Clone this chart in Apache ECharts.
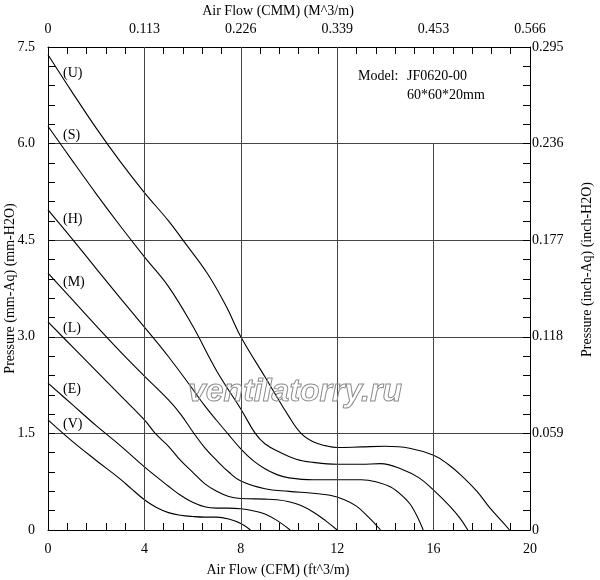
<!DOCTYPE html>
<html>
<head>
<meta charset="utf-8">
<script src="https://cdn.jsdelivr.net/npm/echarts@6/dist/echarts.min.js"></script>
<style>
    html, body { margin: 0; padding: 0; background: #fff; }
    #main { width: 600px; height: 580px; }
</style>
</head>
<body>
<div id="main"></div>
<script>
    // 刻度标签
    var cfmTicks = ['0', '4', '8', '12', '16', '20'];
    var cmmTicks = ['0', '0.113', '0.226', '0.339', '0.453', '0.566'];
    var mmTicks = ['0', '1.5', '3.0', '4.5', '6.0', '7.5'];
    var inchTicks = ['0', '0.059', '0.118', '0.177', '0.236', '0.295'];

    // 曲线名称
    var curveNames = ['(U)', '(S)', '(H)', '(M)', '(L)', '(E)', '(V)'];

    // 各档位 P-Q 曲线 [CFM, mm-H2O]
    var curveU = [[0, 7.38], [1, 6.8], [2, 6.24], [3, 5.72], [4, 5.24], [5, 4.8], [5.6, 4.5], [6.6, 3.99], [7.4, 3.47], [8, 3.0], [9, 2.38], [10, 1.76], [10.5, 1.5], [11, 1.37], [11.5, 1.31], [12, 1.28], [13, 1.29], [14, 1.3], [15, 1.27], [16, 1.16], [16.6, 1.02], [17.2, 0.83], [17.8, 0.6], [18.3, 0.36], [18.8, 0.15], [19.15, 0]];
    var curveS = [[0, 6.27], [1, 5.74], [2, 5.22], [3, 4.72], [4, 4.24], [5, 3.78], [6, 3.17], [7, 2.47], [8, 1.88], [8.6, 1.5], [9, 1.34], [9.6, 1.21], [10.3, 1.1], [11, 1.05], [12, 1.02], [13, 1.02], [13.8, 1.03], [14.7, 0.94], [15.4, 0.81], [16, 0.62], [16.7, 0.36], [17.1, 0.18], [17.42, 0]];
    var curveH = [[0, 4.97], [1, 4.52], [2, 4.06], [3, 3.6], [4, 3.15], [5, 2.69], [6, 2.19], [6.5, 1.93], [7, 1.7], [7.45, 1.5], [8, 1.26], [8.5, 1.08], [9, 0.95], [9.5, 0.86], [10, 0.81], [11, 0.78], [12, 0.78], [13, 0.78], [13.6, 0.75], [14.2, 0.67], [14.7, 0.53], [15.1, 0.36], [15.57, 0]];
    var curveM = [[0, 3.99], [1, 3.58], [2, 3.17], [3, 2.77], [4, 2.39], [5, 2.02], [5.5, 1.8], [6, 1.53], [6.5, 1.28], [7, 1.08], [7.5, 0.9], [8, 0.76], [9, 0.64], [10, 0.6], [11, 0.57], [11.7, 0.54], [12.3, 0.47], [12.8, 0.37], [13.3, 0.2], [13.8, 0]];
    var curveL = [[0, 3.23], [1, 2.85], [2, 2.47], [3, 2.09], [4, 1.71], [4.45, 1.5], [5, 1.3], [5.5, 1.08], [6, 0.9], [6.5, 0.72], [7, 0.6], [7.5, 0.52], [8, 0.49], [9, 0.48], [9.5, 0.47], [10, 0.44], [10.5, 0.38], [11, 0.28], [11.5, 0.15], [12, 0]];
    var curveE = [[0, 2.28], [1, 1.95], [2, 1.62], [3, 1.31], [4, 0.98], [5, 0.68], [5.5, 0.54], [6, 0.43], [6.5, 0.36], [7, 0.34], [7.5, 0.34], [8, 0.33], [8.5, 0.3], [9, 0.25], [9.5, 0.15], [10.05, 0]];
    var curveV = [[0, 1.71], [1, 1.38], [2, 1.08], [3, 0.79], [3.4, 0.66], [4, 0.47], [4.5, 0.35], [5, 0.27], [5.5, 0.23], [6, 0.21], [6.5, 0.2], [7, 0.2], [7.5, 0.17], [8, 0.1], [8.4, 0]];

    var curves = [curveU, curveS, curveH, curveM, curveL, curveE, curveV];
    // 曲线标签的纵向位置
    var labelY = [73, 135, 219, 282, 328, 389, 424];

    var font = '"Liberation Serif", "Times New Roman", serif';
    var textStyle = { fontFamily: font, fontSize: 14, color: '#000' };

    function tickFormatter(labels, step) {
        return function (value) {
            return labels[Math.round(value / step)];
        };
    }

    function xAxisOf(position, labels, name, margin, gap) {
        return {
            type: 'value', position: position, min: 0, max: 20, interval: 4,
            name: name, nameLocation: 'middle', nameGap: gap, nameMoveOverlap: false,
            nameTextStyle: { fontFamily: font, fontSize: 14, color: '#000', padding: [0, 22, 0, 0] },
            axisLine: { show: true, onZero: false, lineStyle: { color: '#000', width: 1 } },
            axisTick: { show: true, inside: true, length: 7, lineStyle: { color: '#000' } },
            minorTick: { show: true, splitNumber: 5, length: 7, lineStyle: { color: '#000' } },
            axisLabel: Object.assign({ margin: margin, formatter: tickFormatter(labels, 4) }, textStyle),
            splitLine: { show: false }
        };
    }

    function yAxisOf(position, labels, name, margin, gap, pad) {
        return {
            type: 'value', position: position, min: 0, max: 7.5, interval: 1.5,
            name: name, nameLocation: 'middle', nameGap: gap, nameMoveOverlap: false,
            nameTextStyle: { fontFamily: font, fontSize: 14, color: '#000', padding: pad },
            axisLine: { show: true, onZero: false, lineStyle: { color: '#000', width: 1 } },
            axisTick: { show: true, inside: true, length: 7, lineStyle: { color: '#000' } },
            minorTick: { show: true, splitNumber: 5, length: 7, lineStyle: { color: '#000' } },
            axisLabel: Object.assign({ margin: margin, formatter: tickFormatter(labels, 1.5) }, textStyle),
            splitLine: { show: position === 'left', lineStyle: { color: '#444', width: 1 } }
        };
    }

    var series = [];
    for (var i = 0; i < curves.length; i++) {
        series.push({
            name: curveNames[i],
            type: 'line',
            data: curves[i],
            showSymbol: false,
            smooth: 0.4,
            lineStyle: { color: '#000', width: 1.1 },
            silent: true
        });
    }
    // 竖直网格线 (16 只画到 6.0)
    series[0].markLine = {
        silent: true,
        symbol: ['none', 'none'],
        label: { show: false },
        lineStyle: { color: '#444', width: 1, type: 'solid' },
        data: [
            { xAxis: 4 }, { xAxis: 8 }, { xAxis: 12 },
            [{ coord: [16, 0] }, { coord: [16, 6] }]
        ]
    };

    var graphics = [];
    for (var j = 0; j < curveNames.length; j++) {
        graphics.push({
            type: 'text', x: 63, y: labelY[j],
            style: { text: curveNames[j], font: '14px ' + font, fill: '#000', verticalAlign: 'middle' }
        });
    }
    graphics.push(
        { type: 'text', x: 358, y: 76, style: { text: 'Model:', font: '14px ' + font, fill: '#000', verticalAlign: 'middle' } },
        { type: 'text', x: 407, y: 76, style: { text: 'JF0620-00', font: '14px ' + font, fill: '#000', verticalAlign: 'middle' } },
        { type: 'text', x: 407, y: 95, style: { text: '60*60*20mm', font: '14px ' + font, fill: '#000', verticalAlign: 'middle' } },
        // 水印
        { type: 'text', x: 188, y: 392, z: 100,
          style: { text: 'ventilatorry.ru', font: 'italic bold 32px "Liberation Sans", Arial, sans-serif',
                   fill: 'rgba(255,255,255,0)', stroke: '#8c8c8c', lineWidth: 1, verticalAlign: 'middle' } }
    );

    var myChart = echarts.init(document.getElementById('main'));
    var option = {
        animation: false,
        backgroundColor: '#fff',
        grid: { left: 48, right: 70, top: 47, bottom: 50, containLabel: false, outerBoundsMode: 'none' },
        xAxis: [
            xAxisOf('bottom', cfmTicks, 'Air Flow (CFM) (ft^3/m)', 12, 33),
            xAxisOf('top', cmmTicks, 'Air Flow (CMM) (M^3/m)', 11, 29)
        ],
        yAxis: [
            yAxisOf('left', mmTicks, 'Pressure (mm-Aq) (mm-H2O)', 13, 31, [0, 0, 0, 0]),
            yAxisOf('right', inchTicks, 'Pressure (inch-Aq) (inch-H2O)', 2, 50, [0, 0, 0, 38])
        ],
        series: series,
        graphic: graphics
    };
    myChart.setOption(option);
</script>
</body>
</html>
